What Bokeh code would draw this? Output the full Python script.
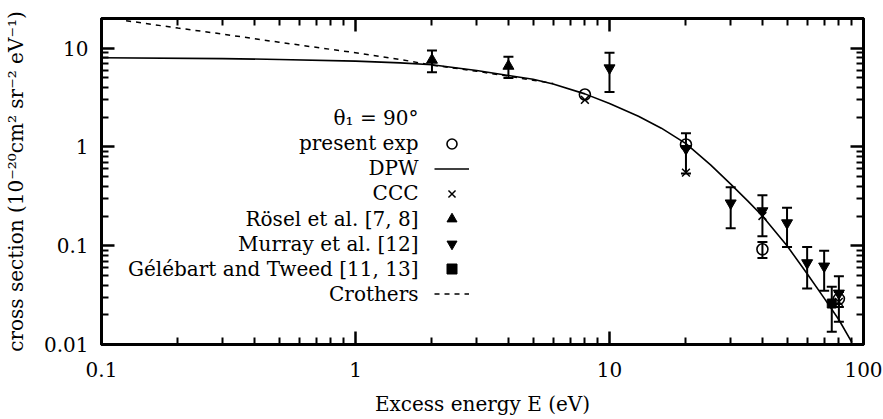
import numpy as np
from bokeh.plotting import figure
from bokeh.models import (ColumnDataSource, Whisker, TeeHead, FixedTicker, LogAxis,
                          Legend, LegendItem, Label, CustomJSTickFormatter)
from bokeh.embed import file_html
from bokeh.resources import INLINE

# ---------------- data ----------------
dpw_E = [0.1, 0.3, 0.5, 1, 1.5, 2, 3, 4, 5, 6, 8, 10, 13, 16, 20, 25, 30, 35, 40,
         50, 60, 70, 80, 90]
dpw_sigma = [8.0, 7.85, 7.7, 7.4, 7.1, 6.8, 5.95, 5.3, 4.85, 4.35, 3.45, 2.75, 2.05,
             1.55, 1.08, 0.66, 0.42, 0.285, 0.20, 0.100, 0.052, 0.0295, 0.0178, 0.0105]

crothers_E = [0.125, 0.2, 0.3, 0.5, 1, 1.5, 2, 3, 4, 5, 6]
crothers_sigma = [19.0, 16.0, 13.9, 11.5, 9.0, 7.7, 6.75, 5.85, 5.2, 4.75, 4.4]

present_E = [8, 20, 40, 80]
present_sigma = [3.4, 1.06, 0.092, 0.029]
present_err = [0.0, 0.0, 0.017, 0.005]

ccc_E = [8, 20, 40, 80]
ccc_sigma = [3.0, 0.55, 0.20, 0.027]

rosel_E = [2, 4]
rosel_sigma = [7.6, 6.6]
rosel_err = [1.9, 1.6]

murray_E = [10, 20, 30, 40, 50, 60, 70, 80]
murray_sigma = [6.3, 0.96, 0.27, 0.225, 0.17, 0.067, 0.062, 0.033]
murray_err = [2.7, 0.42, 0.12, 0.10, 0.073, 0.030, 0.027, 0.016]

gt_E = [75]
gt_sigma = [0.026]
gt_err = [0.0125]

x_ticks = [0.1, 1, 10, 100]
x_tick_labels = ["0.1", "1", "10", "100"]
y_ticks = [0.01, 0.1, 1, 10]
y_tick_labels = ["0.01", "0.1", "1", "10"]

legend_labels = ["θ₁ = 90°", "present exp", "DPW", "CCC", "Rösel et al. [7, 8]",
                 "Murray et al. [12]", "Gélébart and Tweed [11, 13]", "Crothers"]
x_label = "Excess energy E (eV)"
y_label = "cross section (10⁻²⁰cm² sr⁻² eV⁻¹)"

FONT = "DejaVu Serif"

# ---------------- figure ----------------
p = figure(width=883, height=419, x_axis_type="log", y_axis_type="log",
           x_range=(0.1, 100), y_range=(0.01, 20),
           output_backend="svg", toolbar_location=None,
           min_border_left=101, min_border_right=20, min_border_top=18, min_border_bottom=75)
p.grid.visible = False
p.outline_line_color = "black"
p.outline_line_width = 3
p.background_fill_color = "white"
p.border_fill_color = "white"

x_minor = [k * 10.0 ** e for e in (-1, 0, 1) for k in range(2, 10)]
y_minor = [k * 10.0 ** e for e in (-2, -1, 0) for k in range(2, 10)] + [20]


def fmt(vals, labs):
    return CustomJSTickFormatter(args=dict(vals=vals, labs=labs), code="""
        for (let i = 0; i < vals.length; i++) {
            if (Math.abs(vals[i] - tick) < 1e-6 * vals[i]) { return labs[i]; }
        }
        return '';""")


def style(ax, ticks, minor):
    ax.ticker = FixedTicker(ticks=ticks, minor_ticks=minor)
    ax.major_tick_in = 13
    ax.major_tick_out = 0
    ax.minor_tick_in = 7
    ax.minor_tick_out = 0
    ax.major_tick_line_width = 2.5
    ax.minor_tick_line_width = 2
    ax.major_tick_line_color = "black"
    ax.minor_tick_line_color = "black"
    ax.axis_line_width = 3
    ax.axis_line_color = "black"
    ax.major_label_text_font = FONT
    ax.major_label_text_font_size = "20px"
    ax.major_label_text_color = "black"
    ax.axis_label_text_font = FONT
    ax.axis_label_text_font_size = "20px"
    ax.axis_label_text_font_style = "normal"
    ax.axis_label_text_color = "black"


xa = p.xaxis[0]
style(xa, x_ticks, x_minor)
xa.formatter = fmt(x_ticks, x_tick_labels)
xa.major_label_standoff = 17
xa.axis_label = x_label
xa.axis_label_standoff = 12

ya = p.yaxis[0]
style(ya, y_ticks, y_minor)
ya.formatter = fmt(y_ticks, y_tick_labels)
ya.major_label_standoff = 13
ya.axis_label = y_label
ya.axis_label_standoff = 13

top = LogAxis()
style(top, x_ticks, x_minor)
top.formatter = CustomJSTickFormatter(code="return '';")
top.major_label_text_font_size = "0px"
top.major_label_standoff = 0
p.add_layout(top, "above")

right = LogAxis()
style(right, y_ticks, y_minor)
right.formatter = CustomJSTickFormatter(code="return '';")
right.major_label_text_font_size = "0px"
right.major_label_standoff = 0
p.add_layout(right, "right")

# ---------------- curves ----------------
r_dpw = p.line(dpw_E, dpw_sigma, line_color="black", line_width=1.6)
r_cro = p.line(crothers_E, crothers_sigma, line_color="black", line_width=1.5, line_dash="5 5")


def errsrc(E, s, e):
    s = np.array(s, dtype=float)
    e = np.array(e, dtype=float)
    return ColumnDataSource(dict(E=E, s=list(s), lo=list(s - e), hi=list(s + e)))


def add_whisker(src):
    w = Whisker(base="E", lower="lo", upper="hi", source=src, dimension="height",
                line_color="black", line_width=2,
                upper_head=TeeHead(size=10, line_width=2, line_color="black"),
                lower_head=TeeHead(size=10, line_width=2, line_color="black"))
    p.add_layout(w)


src_r = errsrc(rosel_E, rosel_sigma, rosel_err)
src_m = errsrc(murray_E, murray_sigma, murray_err)
src_g = errsrc(gt_E, gt_sigma, gt_err)
src_pe = errsrc(present_E, present_sigma, present_err)
for s in (src_r, src_m, src_g):
    add_whisker(s)
src_pe_err = ColumnDataSource(dict(
    E=[e for e, er in zip(present_E, present_err) if er > 0],
    lo=[s - er for s, er in zip(present_sigma, present_err) if er > 0],
    hi=[s + er for s, er in zip(present_sigma, present_err) if er > 0]))
add_whisker(src_pe_err)

r_r = p.scatter("E", "s", source=src_r, marker="triangle", size=11,
                fill_color="black", line_color="black")
r_m = p.scatter("E", "s", source=src_m, marker="inverted_triangle", size=11,
                fill_color="black", line_color="black")
r_g = p.scatter("E", "s", source=src_g, marker="square", size=9,
                fill_color="black", line_color="black")
r_c = p.scatter(ccc_E, ccc_sigma, marker="x", size=11, line_color="black", line_width=1.5)
r_pe = p.scatter("E", "s", source=src_pe, marker="circle", size=11,
                 fill_color=None, line_color="black", line_width=1.6)

# ---------------- legend: symbols on the right, labels right-aligned ----------------
legend = Legend(items=[LegendItem(label=" ", renderers=[r]) for r in
                       (r_pe, r_dpw, r_c, r_r, r_m, r_g, r_cro)],
                location=(333, 38), orientation="vertical",
                glyph_width=35, glyph_height=25, label_height=25, label_width=0,
                label_standoff=0, spacing=0, padding=0, margin=0,
                label_text_font_size="10px",
                border_line_alpha=0, background_fill_alpha=0)
p.add_layout(legend)

row_y = [226.7, 201.3, 176.2, 151.1, 126.0, 100.9, 75.8, 50.7]
for txt, yy in zip(legend_labels, row_y):
    p.add_layout(Label(x=317, y=yy, x_units="screen", y_units="screen", text=txt,
                       text_align="right", text_baseline="middle",
                       text_font=FONT, text_font_size="20px", text_color="black"))

open("out.html", "w").write(file_html(p, INLINE))
